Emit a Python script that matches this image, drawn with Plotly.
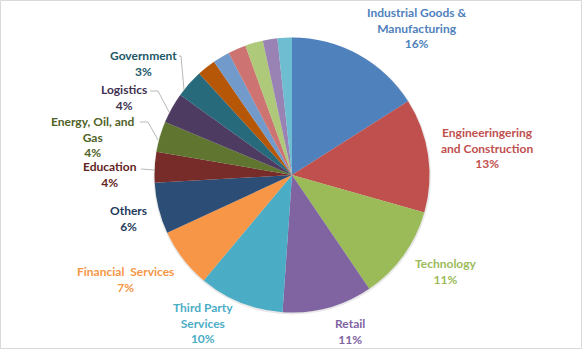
import plotly.graph_objects as go

categories = ["Industrial Goods &<br>Manufacturing", "Engineeringering<br>and Construction", "Technology", "Retail",
              "Third Party<br>Services", "Financial  Services", "Others", "Education",
              "Energy, Oil, and<br>Gas", "Logistics", "Government",
              "Other A", "Other B", "Other C", "Other D", "Other E", "Other F"]
values = [16.0, 13.4, 11.1, 10.6, 10.0, 7.0, 6.0, 3.6, 3.6, 3.6, 3.3, 2.2, 2.0, 2.1, 2.1, 1.7, 1.7]
colors = ["#4F81BD", "#C0504D", "#9BBB59", "#8064A2", "#4BACC6", "#F79646", "#2C4D75", "#772C2A",
          "#5F7530", "#4D3B62", "#276A7C", "#B65708", "#729ACA", "#CD7371", "#AFC97A", "#9983B5", "#6FBDD1"]
label_colors = ["#4F81BD", "#C0504D", "#9BBB59", "#8064A2", "#4BACC6", "#F79646", "#1F3B5C", "#632523",
                "#4F6228", "#3F3151", "#215968"]

W, H = 583, 350
# label centres in pixels (style/layout)
label_pos = [(416, 28), (487, 148), (446, 271), (350, 331), (203, 323), (125, 279),
             (128, 219), (110, 174), (93, 137), (124, 97), (143, 64)]

total = sum(values)
fig = go.Figure()
fig.add_trace(go.Pie(
    labels=[c.replace("<br>", " ") for c in categories], values=values, sort=False,
    direction="clockwise", rotation=0,
    marker=dict(colors=colors, line=dict(width=0)),
    textinfo="none", hoverinfo="label+percent", showlegend=False,
    domain=dict(x=[154.5 / W, 429.5 / W], y=[(H - 312.5) / H, (H - 37.5) / H]),
))

annotations = []
for i, (px, py) in enumerate(label_pos):
    pct = round(values[i] / total * 100)
    annotations.append(dict(
        x=px / W, y=1 - py / H, xref="paper", yref="paper", xanchor="center", yanchor="middle",
        text=f"{categories[i]}<br>{pct}%", showarrow=False, align="center",
        font=dict(family="Lato", size=12, color=label_colors[i], weight="bold"),
    ))

def P(x, y):
    return f"{x / W},{1 - y / H}"

leaders = [
    [(179, 56), (181, 56), (184, 90)],
    [(150, 91), (158, 91), (169, 112)],
    [(140, 122), (148, 122), (158, 140)],
    [(141, 169), (155, 170)],
]
shapes = []
for pts in leaders:
    path = "M " + " L ".join(P(x, y) for x, y in pts)
    shapes.append(dict(type="path", xref="paper", yref="paper", path=path,
                       line=dict(color="#A6A6A6", width=0.8)))
# soft shadow behind pie
shapes.append(dict(type="circle", xref="paper", yref="paper", layer="below",
                   x0=153.5 / W, x1=431 / W, y0=1 - 314.5 / H, y1=1 - 37.5 / H,
                   fillcolor="#E8E8E8", line=dict(width=0)))
# chart border
shapes.append(dict(type="rect", xref="paper", yref="paper", x0=0.5 / W, x1=(W - 1.5) / W,
                   y0=1 - (H - 1.5) / H, y1=1 - 0.5 / H, line=dict(color="#D9D9D9", width=1)))

fig.update_layout(width=W, height=H, margin=dict(l=0, r=0, t=0, b=0),
                  paper_bgcolor="white", plot_bgcolor="white",
                  annotations=annotations, shapes=shapes)
fig.write_html("out.html")
